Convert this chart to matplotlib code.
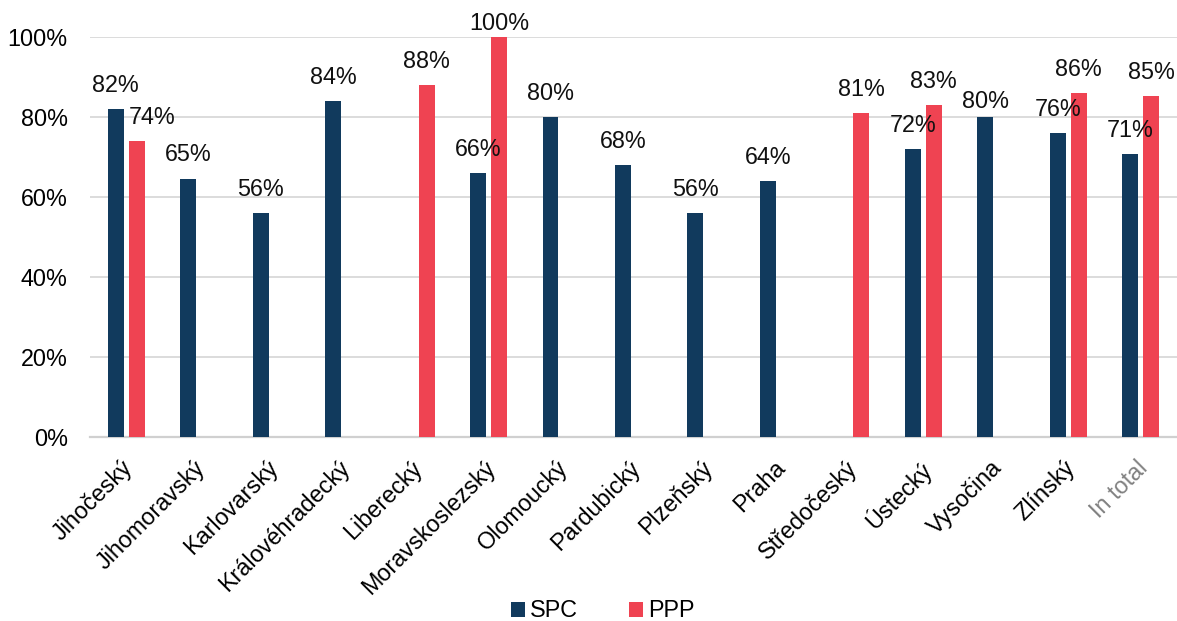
import matplotlib
matplotlib.use("Agg")
import matplotlib.pyplot as plt
from matplotlib.transforms import ScaledTranslation
import numpy as np

plt.rcParams['font.family'] = ['Liberation Sans', 'DejaVu Sans']

regions = ["Jihočeský", "Jihomoravský", "Karlovarský", "Královéhradecký",
           "Liberecký", "Moravskoslezský", "Olomoucký", "Pardubický",
           "Plzeňský", "Praha", "Středočeský", "Ústecký", "Vysočina",
           "Zlínský", "In total"]
spc = [82, 64.6, 56, 84, np.nan, 66, 80, 68, 56, 64, np.nan, 72, 80, 76, 70.7]
ppp = [74, np.nan, np.nan, np.nan, 88, 100, np.nan, np.nan, np.nan, np.nan,
       81, 83, np.nan, 86, 85.2]

c_spc = "#113A5D"
c_ppp = "#EF4352"
fs = 16.8

fig = plt.figure(figsize=(11.77, 6.21), dpi=100)
ax = fig.add_axes([90/1177, 1 - 437/621, 1 - 90/1177, 400/621])

x = np.arange(len(regions))
w = 0.22
off = 0.145
b1 = ax.bar(x - off, spc, w, color=c_spc, label="SPC", zorder=3)
b2 = ax.bar(x + off, ppp, w, color=c_ppp, label="PPP", zorder=3)

# label offsets in pixels (dx, dy) where the default would collide
shift_spc = {12: (0, -15)}
shift_ppp = {0: (15, -24), 5: (0, -14)}

def put_labels(bars, vals, shifts):
    for i, (b, v) in enumerate(zip(bars, vals)):
        if np.isnan(v):
            continue
        dx, dy = shifts.get(i, (0, -24))
        ax.annotate(f"{v:.0f}%", (b.get_x() + b.get_width() / 2, v),
                    xytext=(dx, -dy), textcoords="offset pixels",
                    ha="center", va="center", fontsize=fs, color="#111111",
                    zorder=5, annotation_clip=False)

put_labels(b1, spc, shift_spc)
put_labels(b2, ppp, shift_ppp)

ax.set_xlim(-0.5, len(regions) - 0.5)
ax.set_ylim(0, 100)
ax.set_yticks(range(0, 101, 20))
ax.set_yticklabels([f"{t}%" for t in range(0, 101, 20)], fontsize=fs)
ax.yaxis.grid(True, color="#d9d9d9", linewidth=1.3, zorder=0)
ax.set_axisbelow(True)
for s in ["top", "right", "left"]:
    ax.spines[s].set_visible(False)
ax.spines["bottom"].set_color("#d0d0d0")
ax.spines["bottom"].set_linewidth(1.6)
ax.tick_params(axis="both", length=0)
ax.tick_params(axis="y", pad=16)

ax.set_xticks(x)
ax.set_xticklabels(regions, fontsize=fs, rotation=45, ha="right", va="top",
                   rotation_mode="anchor")
ax.tick_params(axis="x", pad=14)
nudge = ScaledTranslation(-5 / 100, 0, fig.dpi_scale_trans)
for lab in ax.get_xticklabels():
    lab.set_transform(lab.get_transform() + nudge)
ax.get_xticklabels()[-1].set_color("#808080")

fig.legend(loc="lower center", bbox_to_anchor=(0.512, -0.036), ncol=2,
           frameon=False, fontsize=fs, handlelength=0.6, handleheight=0.6,
           handletextpad=0.2, columnspacing=2.2)

fig.savefig("out.png", dpi=100)
